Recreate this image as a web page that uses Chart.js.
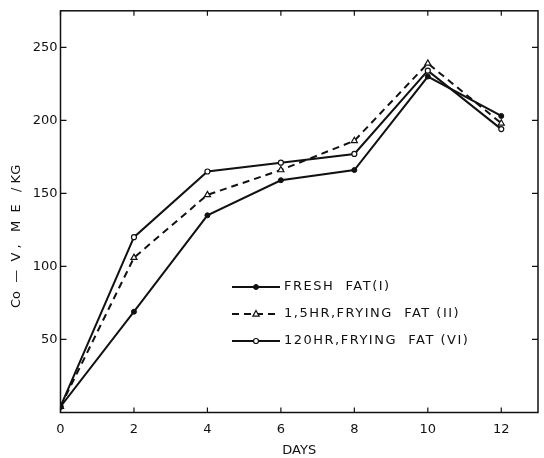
<!DOCTYPE html>
<html>
<head>
<meta charset="utf-8">
<script src="https://cdn.jsdelivr.net/npm/chart.js"></script>
<style>
  html, body { margin: 0; padding: 0; background: #fff; }
  #wrap { width: 544px; height: 458px; position: relative; }
</style>
</head>
<body>
<div id="wrap"><canvas id="fatChart"></canvas></div>
<script>
// data
const days = [0, 2, 4, 6, 8, 10, 12];
const freshFat = [4, 69, 135, 159, 166, 230, 203];
const frying15 = [4, 106, 149, 166, 186, 239, 198];
const frying120 = [4, 120, 165, 171, 177, 234, 194];
const seriesLabels = ['FRESH  FAT(I)', '1,5HR,FRYING  FAT (II)', '120HR,FRYING  FAT (VI)'];
const xTicks = [0, 2, 4, 6, 8, 10, 12];
const yTicks = [50, 100, 150, 200, 250];

const ink = '#111';
const FONT = "'DejaVu Sans', sans-serif";

function pts(vals) {
    return days.map((d, i) => ({ x: d, y: vals[i] }));
}

function drawMarker(ctx, ds, x, y) {
    ctx.save();
    ctx.setLineDash([]);
    ctx.lineWidth = ds.pointBorderWidth;
    ctx.strokeStyle = ink;
    ctx.fillStyle = ds.pointBackgroundColor;
    const r = ds.pointRadius;
    ctx.beginPath();
    if (ds.pointStyle === 'triangle') {
        ctx.moveTo(x, y - r);
        ctx.lineTo(x + r * 0.9, y + r * 0.6);
        ctx.lineTo(x - r * 0.9, y + r * 0.6);
        ctx.closePath();
    } else {
        ctx.arc(x, y, r, 0, Math.PI * 2);
    }
    ctx.fill();
    ctx.stroke();
    ctx.restore();
}

// frame round the plot, inward tick marks, and legend inside the plot
const framePlugin = {
    id: 'frame',
    afterDatasetsDraw(chart) {
        const { ctx, chartArea: a, scales } = chart;
        ctx.save();
        ctx.strokeStyle = ink;
        ctx.lineWidth = 1.5;
        ctx.strokeRect(a.left, a.top, a.right - a.left, a.bottom - a.top);
        ctx.lineWidth = 1.2;
        ctx.beginPath();
        xTicks.forEach(t => {
            const px = scales.x.getPixelForValue(t);
            ctx.moveTo(px, a.bottom); ctx.lineTo(px, a.bottom - 5);
            ctx.moveTo(px, a.top); ctx.lineTo(px, a.top + 5);
        });
        yTicks.forEach(t => {
            const py = scales.y.getPixelForValue(t);
            ctx.moveTo(a.left, py); ctx.lineTo(a.left + 6, py);
            ctx.moveTo(a.right, py); ctx.lineTo(a.right - 6, py);
        });
        ctx.stroke();

        // legend
        const rows = [287, 314, 341];
        ctx.font = '13px ' + FONT;
        ctx.letterSpacing = '1.5px';
        ctx.textBaseline = 'middle';
        ctx.fillStyle = ink;
        chart.data.datasets.forEach((ds, i) => {
            const y = rows[i];
            ctx.save();
            ctx.lineWidth = ds.borderWidth;
            ctx.setLineDash(ds.borderDash || []);
            ctx.beginPath();
            ctx.moveTo(232, y); ctx.lineTo(280, y);
            ctx.stroke();
            ctx.restore();
            drawMarker(ctx, ds, 256, y);
            ctx.fillText(ds.label, 284, y);
        });
        ctx.restore();
    }
};

const ctx = document.getElementById('fatChart').getContext('2d');

new Chart(ctx, {
    type: 'line',
    data: {
        datasets: [
            {
                label: seriesLabels[0],
                data: pts(freshFat),
                borderColor: ink,
                borderWidth: 2,
                pointStyle: 'circle',
                pointRadius: 2.5,
                pointBackgroundColor: ink,
                pointBorderColor: ink,
                pointBorderWidth: 1
            },
            {
                label: seriesLabels[1],
                data: pts(frying15),
                borderColor: ink,
                borderWidth: 2,
                borderDash: [7, 5],
                pointStyle: 'triangle',
                pointRadius: 3.5,
                pointBackgroundColor: '#fff',
                pointBorderColor: ink,
                pointBorderWidth: 1.2
            },
            {
                label: seriesLabels[2],
                data: pts(frying120),
                borderColor: ink,
                borderWidth: 2,
                pointStyle: 'circle',
                pointRadius: 2.5,
                pointBackgroundColor: '#fff',
                pointBorderColor: ink,
                pointBorderWidth: 1.2
            }
        ]
    },
    options: {
        responsive: true,
        maintainAspectRatio: false,
        animation: false,
        layout: { padding: { top: 7, right: 6, left: 0, bottom: 0 } },
        scales: {
            x: {
                type: 'linear',
                min: 0,
                max: 13,
                afterFit: s => { s.height = 45.5; },
                grid: { display: false, drawTicks: false },
                border: { display: false },
                ticks: {
                    stepSize: 2,
                    includeBounds: false,
                    padding: 9,
                    maxRotation: 0,
                    color: ink,
                    font: { family: FONT, size: 13 }
                },
                title: {
                    display: true,
                    text: 'DAYS',
                    color: ink,
                    padding: { top: 0, bottom: 0 },
                    font: { family: FONT, size: 13 }
                }
            },
            y: {
                min: 0,
                max: 275,
                afterFit: s => { s.width = 60.5; },
                grid: { display: false, drawTicks: false },
                border: { display: false },
                ticks: {
                    stepSize: 50,
                    includeBounds: false,
                    padding: 3,
                    color: ink,
                    font: { family: FONT, size: 13 },
                    callback: v => (v === 0 ? '' : v)
                },
                title: {
                    display: true,
                    // trailing spaces push the visible text a little lower, as in the original
                    text: 'Co  —  V ,   M  E   / KG\u00a0\u00a0\u00a0\u00a0\u00a0\u00a0\u00a0\u00a0\u00a0\u00a0\u00a0\u00a0',
                    color: ink,
                    padding: { top: 9, bottom: 0 },
                    font: { family: FONT, size: 13 }
                }
            }
        },
        plugins: {
            legend: { display: false },
            tooltip: { enabled: false }
        }
    },
    plugins: [framePlugin]
});
</script>
</body>
</html>
